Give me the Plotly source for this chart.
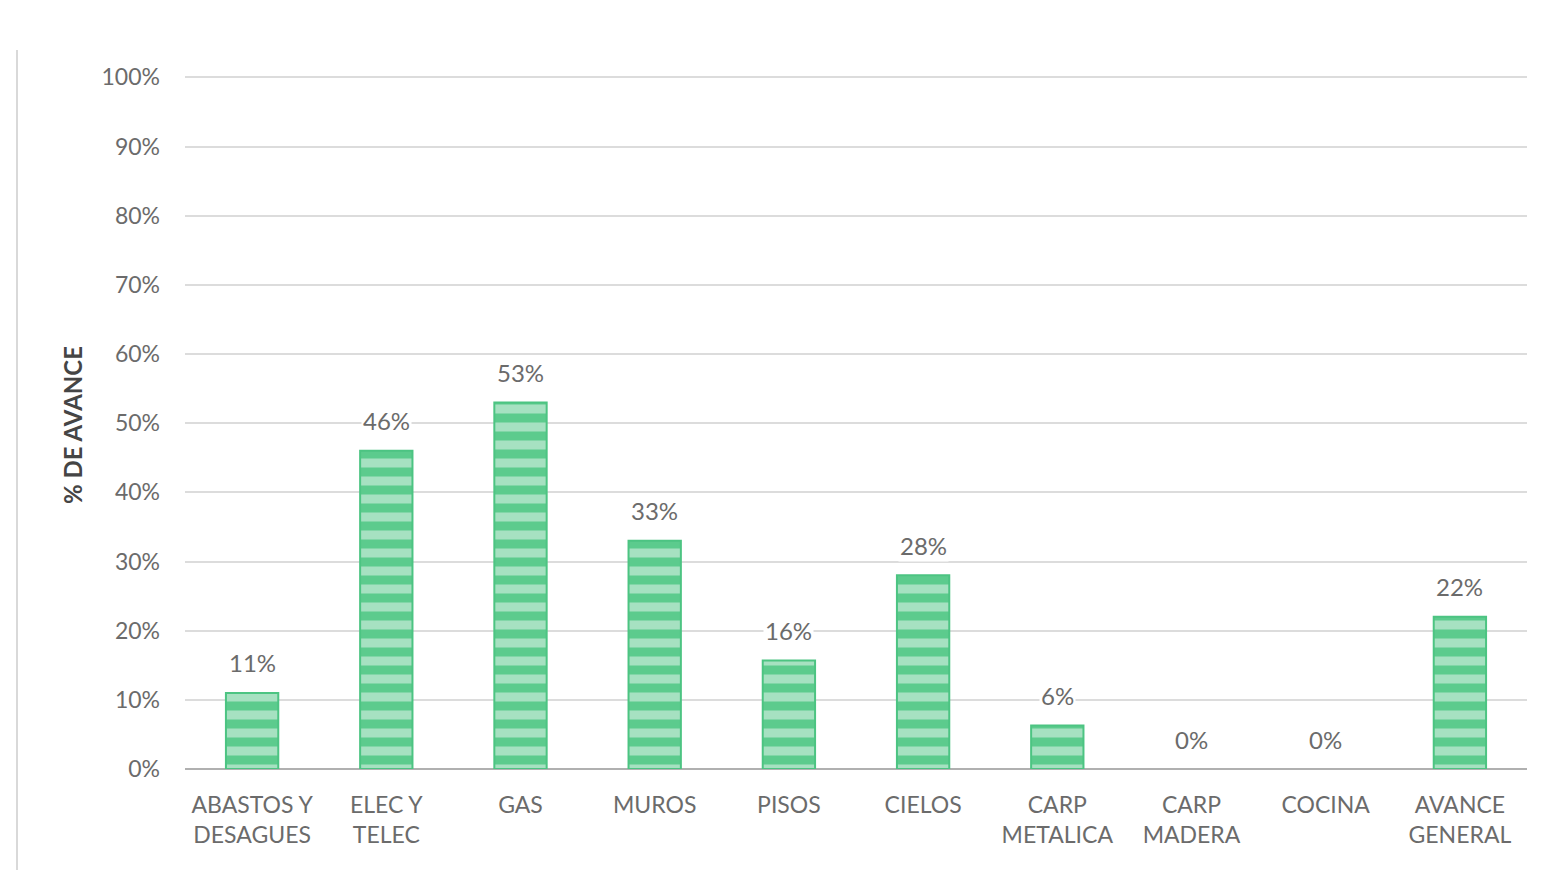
import plotly.graph_objects as go

categories = ["ABASTOS Y<br>DESAGUES", "ELEC Y<br>TELEC", "GAS", "MUROS", "PISOS",
              "CIELOS", "CARP<br>METALICA", "CARP<br>MADERA", "COCINA", "AVANCE<br>GENERAL"]
values = [0.11, 0.46, 0.53, 0.33, 0.157, 0.28, 0.063, 0.0, 0.0, 0.22]
y_ticks = [i / 10 for i in range(11)]
y_ticklabels = [f"{i*10}%" for i in range(11)]

font_family = "Lato, 'Open Sans', sans-serif"
gray = "#6b6b6b"

W, H = 1538, 862
L, T, PW, PH = 177, 68, 1342, 693

fig = go.Figure()
fig.add_trace(go.Bar(
    x=categories,
    y=values,
    width=0.39,
    marker=dict(
        color="#5ccb8d",
        line=dict(color="#4cc482", width=[2 if v > 0 else 0 for v in values]),
        pattern=dict(shape="-", bgcolor="#5ccb8d", fgcolor="#a6e1c1",
                     size=18, solidity=0.5, fillmode="replace"),
    ),
    cliponaxis=False,
))

for c, v in zip(categories, values):
    fig.add_annotation(
        x=c, y=v, xref="x", yref="y", text=f"{v:.0%}", showarrow=False,
        yshift=30, bgcolor="white", borderpad=1,
        font=dict(family=font_family, size=24, color=gray),
    )

fig.update_layout(
    width=W, height=H,
    paper_bgcolor="white", plot_bgcolor="white",
    margin=dict(l=L, r=W - L - PW, t=T, b=H - T - PH),
    showlegend=False,
    font=dict(family=font_family, color=gray, size=22),
    xaxis=dict(
        tickfont=dict(family=font_family, size=23, color=gray),
        showgrid=False, showline=False, ticks="", ticklabelstandoff=20,
    ),
    yaxis=dict(
        range=[0, 1.002],
        tickvals=y_ticks, ticktext=y_ticklabels,
        tickfont=dict(family=font_family, size=23, color=gray),
        showgrid=True, gridcolor="#dcdcdc", gridwidth=2,
        zeroline=True, zerolinecolor="#b0b0b0", zerolinewidth=2,
        showline=False, ticks="", ticklabelstandoff=24,
    ),
)

fig.add_annotation(
    text="<b>% DE AVANCE</b>", textangle=-90,
    xref="paper", yref="paper", x=(64 - L) / PW, y=(T + PH - 425 + 8) / PH,
    xanchor="center", yanchor="middle",
    showarrow=False, font=dict(family=font_family, size=24, color="#454545"),
)

fig.add_shape(
    type="line", xref="paper", yref="paper",
    x0=(9 - L) / PW, x1=(9 - L) / PW,
    y0=(T + PH - 42) / PH, y1=(T + PH - 870) / PH,
    line=dict(color="#d9d9d9", width=2),
)

fig.write_html("out.html")
